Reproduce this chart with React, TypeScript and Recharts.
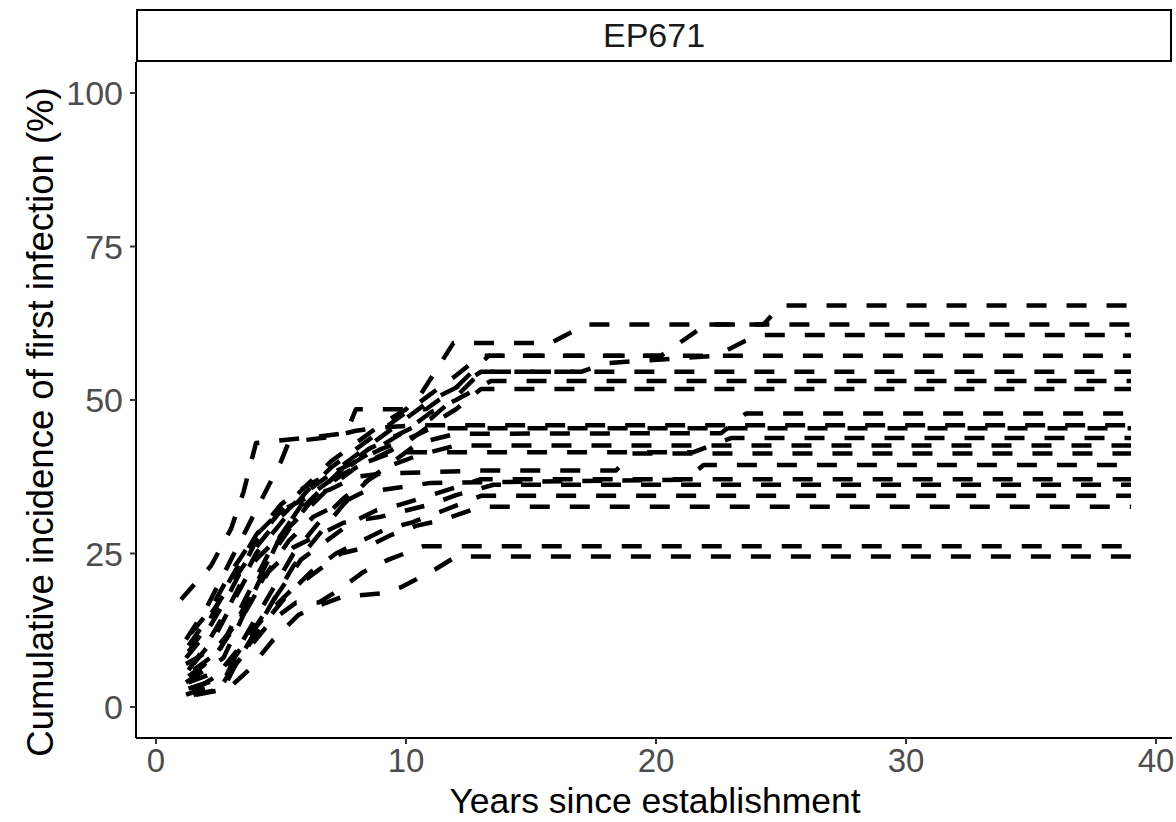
import React from 'react';
import { LineChart, Line, XAxis, YAxis } from 'recharts';

// cumulative incidence curves, [year, percent]
const curveA: [number, number][] = [[1.3, 6], [2, 10], [3, 17], [4, 25], [5, 30], [6, 35], [7, 39], [8, 42], [9, 45], [10, 48], [11, 51], [12, 54], [13, 57.2], [20.2, 57.2], [22, 62.3], [24.3, 62.3], [25, 65.4], [39, 65.4]];
const curveB: [number, number][] = [[1.2, 8], [2, 12], [3, 19], [4, 27], [5, 32], [6, 36], [7, 40], [8, 43], [9, 46], [10, 48.5], [10.6, 51], [11.9, 59.3], [15.8, 59.3], [17.2, 62.3], [39, 62.3]];
const curveC: [number, number][] = [[1.4, 5], [2.5, 9], [3.5, 16], [4.5, 24], [5.5, 30], [6.5, 35], [7.5, 39], [8.5, 42], [9.5, 44], [11, 47], [12, 50.5], [13, 54.6], [17, 54.6], [18, 56], [22.4, 57.2], [23.5, 59.5], [24.3, 60.6], [39, 60.6]];
const curveD: [number, number][] = [[1, 17.5], [2.2, 23], [3, 29], [3.5, 35], [4, 43], [6.4, 44], [7.6, 44.6], [8, 48.5], [10.8, 48.5], [12, 52], [13.3, 57.2], [39, 57.2]];
const curveE: [number, number][] = [[1.3, 10], [2, 14], [3, 20], [4, 26], [5, 31], [6, 35], [7, 38], [8, 41], [9, 44], [10, 47], [11, 50], [12, 52], [13, 54.6], [39, 54.6]];
const curveF: [number, number][] = [[1.2, 4], [2.7, 8], [3.5, 15], [4.3, 22], [5, 28], [6, 34], [7, 37], [8, 40], [9, 42.5], [10, 45], [11, 48], [12, 50], [13.4, 53.1], [39, 53.1]];
const curveG: [number, number][] = [[1.5, 7], [2.3, 11], [3.2, 18], [4, 24], [5, 28], [6, 32], [7, 36], [8, 39], [9, 41], [10, 43], [11, 46], [12, 48.5], [13, 51.8], [39, 51.8]];
const curveH: [number, number][] = [[1.3, 3], [2.8, 5], [3.5, 11], [4.5, 18], [5.5, 25], [6.5, 30], [7.5, 34], [8.5, 37], [9.5, 40], [10.5, 43], [12, 44.5], [22.6, 44.6], [23.6, 47.8], [39, 47.8]];
const curveI: [number, number][] = [[1.2, 11], [2, 16], [3, 24], [4, 32], [5, 40], [5.3, 43], [6, 43.5], [7, 44], [8, 45], [9, 45.5], [10.5, 45.9], [39, 45.9]];
const curveJ: [number, number][] = [[1.3, 9], [2, 13], [3, 21], [4, 28], [5, 33], [6, 36], [7, 38], [8, 40], [9, 42], [10, 43.5], [11, 45.4], [39, 45.4]];
const curveK: [number, number][] = [[1.5, 6], [2.5, 9], [3.5, 17], [4.5, 25], [5.5, 31], [6.5, 35], [7.5, 38], [8.5, 40], [9.5, 41.5], [11, 41.5], [21.5, 41.5], [23, 43.8], [39, 43.8]];
const curveL: [number, number][] = [[1.2, 2], [2.7, 4], [3.5, 9], [4.5, 16], [5.5, 23], [6.5, 28], [7.5, 33], [8.5, 37], [9.5, 39.5], [10.5, 41], [12, 42.6], [39, 42.6]];
const curveM: [number, number][] = [[1.4, 12], [2.2, 16], [3, 22], [4, 28], [5, 32], [6, 34], [7, 35.5], [8, 37.5], [9, 38], [13, 38.5], [18.4, 38.5], [19, 41.3], [39, 41.3]];
const curveN: [number, number][] = [[1.3, 5], [2.3, 8], [3.3, 14], [4.3, 21], [5.3, 27], [6.3, 31], [7.3, 33], [8.3, 35], [9.3, 35.5], [11, 36.5], [21.2, 37], [21.9, 39.4], [39, 39.4]];
const curveO: [number, number][] = [[1.6, 3], [2.8, 6], [3.8, 12], [4.8, 18], [5.8, 24], [6.8, 27], [7.8, 30], [8.8, 32], [9.8, 33], [11, 34.5], [13, 37.1], [39, 37.1]];
const curveP: [number, number][] = [[1.2, 7], [2.5, 10], [3.5, 15], [4.5, 22], [5.5, 26], [6.5, 28], [7.5, 30], [9, 31], [10, 32], [11, 33], [12, 34.5], [13.5, 36.2], [39, 36.2]];
const curveQ: [number, number][] = [[1.5, 2], [2.7, 3], [3.2, 7], [4.2, 13], [5.2, 18], [6.2, 22], [7.2, 25], [8.2, 27], [9.2, 29], [10.2, 30], [11.5, 32], [13, 34.4], [39, 34.4]];
const curveR: [number, number][] = [[1.3, 4], [2.6, 6], [3.4, 10], [4.4, 15], [5.4, 19], [6.4, 22], [7.4, 25], [8.4, 26], [9.4, 28], [10.4, 29.5], [11.5, 30.5], [13, 32.6], [39, 32.6]];
const curveS: [number, number][] = [[1.4, 3], [2.8, 5], [3.6, 9], [4.6, 14], [5.6, 17], [6.5, 17], [7.3, 19], [8.3, 22], [9.3, 24], [10.7, 26.2], [39, 26.2]];
const curveT: [number, number][] = [[1.6, 2], [2.9, 3], [3.7, 6], [4.7, 11], [5.7, 15], [6.5, 16.5], [7.5, 18], [9, 18.5], [9.8, 19.5], [11, 22], [12, 24.5], [39, 24.5]];

const xTicks = [0, 10, 20, 30, 40];
const yTicks = [0, 25, 50, 75, 100];
const facetLabel = 'EP671';

const curves = [curveA, curveB, curveC, curveD, curveE, curveF, curveG, curveH, curveI, curveJ, curveK, curveL, curveM, curveN, curveO, curveP, curveQ, curveR, curveS, curveT];
const series = curves.map(c => c.map(([x, y]) => ({ x, y })));

const FONT = '"Liberation Sans", Arial, sans-serif';

export default function App() {
  return <div style={{ position: 'absolute', left: 0, top: 0, width: 1176, height: 822, background: '#fff', fontFamily: FONT }}>
      <div style={{
      position: 'absolute',
      left: 136,
      top: 9,
      width: 1036,
      height: 53,
      border: '2px solid #000',
      boxSizing: 'border-box',
      textAlign: 'center',
      lineHeight: '49px',
      fontSize: 34,
      color: '#1a1a1a'
    }}>{facetLabel}</div>
      <LineChart width={1176} height={822} margin={{
      top: 62,
      right: 4,
      bottom: 0,
      left: 0
    }} style={{ fontFamily: FONT }}>
        <XAxis dataKey="x" type="number" domain={[-0.8, 40.64]} ticks={xTicks} allowDataOverflow height={84} stroke="#000" strokeWidth={2} tickLine={{ stroke: '#333', strokeWidth: 2 }} tickSize={6} tickMargin={5} tick={{ fill: '#4d4d4d', fontSize: 33 }} label={{
        content: () => <text x={655} y={813} textAnchor="middle" fontSize={35.5} fill="#000">Years since establishment</text>
      }} />
        <YAxis type="number" domain={[-5.05, 105.05]} ticks={yTicks} allowDataOverflow width={136} stroke="#000" strokeWidth={2} tickLine={{ stroke: '#333', strokeWidth: 2 }} tickSize={6} tickMargin={7} tick={{ fill: '#4d4d4d', fontSize: 34 }} label={{
        content: () => <text x={40} y={422} transform="rotate(-90, 40, 422)" textAnchor="middle" dominantBaseline="central" fontSize={36.5} fill="#000">Cumulative incidence of first infection (%)</text>
      }} />
        {series.map((d, i) => <Line key={i} data={d} dataKey="y" type="linear" stroke="#000" strokeWidth={4.5} strokeDasharray="20 20" strokeLinecap="butt" strokeLinejoin="round" dot={false} activeDot={false} isAnimationActive={false} />)}
      </LineChart>
    </div>;
}
